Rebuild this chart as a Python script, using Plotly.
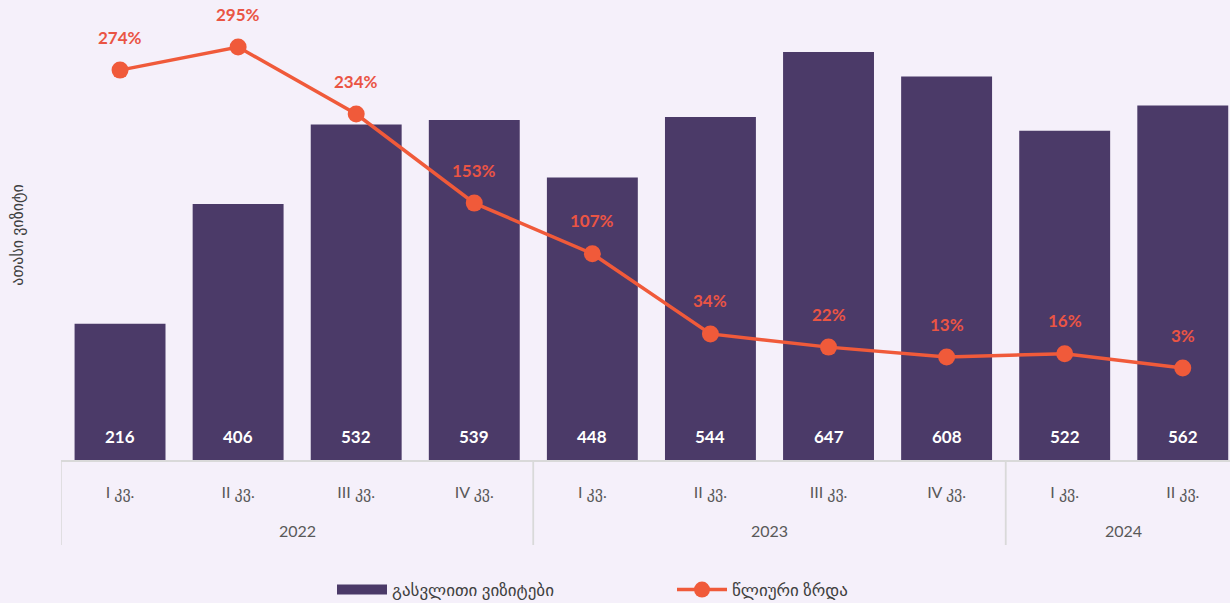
import plotly.graph_objects as go

years = ["2022", "2022", "2022", "2022", "2023", "2023", "2023", "2023", "2024", "2024"]
quarters = ["I კვ.", "II კვ.", "III კვ.", "IV კვ.", "I კვ.", "II კვ.", "III კვ.", "IV კვ.", "I კვ.", "II კვ."]
visits = [216, 406, 532, 539, 448, 544, 647, 608, 522, 562]
growth = [274, 295, 234, 153, 107, 34, 22, 13, 16, 3]

bar_name = "გასვლითი ვიზიტები"
line_name = "წლიური ზრდა"
y_title = "ათასი ვიზიტი"

BG = "#f5f0fa"
BAR = "#4b3a68"
LINE = "#f05a3a"
LBL = "#ea5444"
AXC = "#d9d9d9"
FONT = "Lato, DejaVu Sans, sans-serif"

idx = list(range(len(quarters)))

fig = go.Figure()
fig.add_trace(go.Bar(
    x=idx, y=visits, name=bar_name, marker_color=BAR,
    marker_line_width=0, width=0.77, showlegend=False,
))
# legend proxy for the bar series (wide rectangle swatch)
fig.add_trace(go.Scatter(
    x=[None], y=[None], name=bar_name, mode="lines",
    line=dict(color=BAR, width=12),
))
fig.add_trace(go.Scatter(
    x=idx, y=growth, name=line_name, yaxis="y2", mode="lines+markers",
    line=dict(color=LINE, width=3.5), marker=dict(size=17, color=LINE),
    cliponaxis=False,
))

annotations = []
for i, v in zip(idx, visits):
    annotations.append(dict(x=i, y=0, xref="x", yref="y", text=f"<b>{v}</b>",
                            showarrow=False, yshift=24,
                            font=dict(color="white", size=17, family=FONT)))
for i, g in zip(idx, growth):
    annotations.append(dict(x=i, y=g, xref="x", yref="y2", text=f"<b>{g}%</b>",
                            showarrow=False, yshift=33,
                            font=dict(color=LBL, size=17, family=FONT)))

# year group labels and dividers, derived from the years list
groups = []
for i, yv in enumerate(years):
    if not groups or groups[-1][0] != yv:
        groups.append([yv, i, i])
    else:
        groups[-1][2] = i
shapes = []
for yv, a, b in groups:
    annotations.append(dict(x=(a + b) / 2, y=-70 / 450, xref="x", yref="paper",
                            text=yv, showarrow=False, yanchor="middle",
                            font=dict(size=16, color="#595959", family=FONT)))
    for edge in (a - 0.5, b + 0.5):
        shapes.append(dict(type="line", x0=edge, x1=edge, xref="x", yref="paper",
                           y0=0, y1=-85 / 450, line=dict(color=AXC, width=1.5)))

fig.update_layout(
    width=1230, height=603,
    paper_bgcolor=BG, plot_bgcolor=BG,
    margin=dict(l=61, r=0, t=10, b=143),
    font=dict(family=FONT, color="#595959", size=15),
    showlegend=True,
    legend=dict(orientation="h", x=(332 - 61) / 1169, xanchor="left",
                yref="container", y=(603 - 590) / 603, yanchor="middle",
                font=dict(size=17, color="#404040"), itemwidth=50,
                entrywidthmode="pixels", entrywidth=275),
    bargap=0.23,
    annotations=annotations,
    shapes=shapes,
    xaxis=dict(
        range=[-0.5, 9.4], tickvals=idx, ticktext=quarters,
        showline=True, linecolor=AXC, linewidth=1.5,
        showgrid=False, zeroline=False, ticks="",
        tickfont=dict(size=16, color="#595959"),
        ticklabelstandoff=17,
    ),
    yaxis=dict(range=[0, 713.6], showgrid=False, showticklabels=False,
               zeroline=False,
               title=dict(text=y_title, font=dict(size=16, color="#404040"), standoff=32)),
    yaxis2=dict(range=[-80.7, 328.7], overlaying="y", side="right",
                showgrid=False, showticklabels=False, zeroline=False),
)

fig.write_html("out.html", config={"displayModeBar": False},
               post_script="document.body.style.margin='0';document.body.style.background='" + BG + "';")
